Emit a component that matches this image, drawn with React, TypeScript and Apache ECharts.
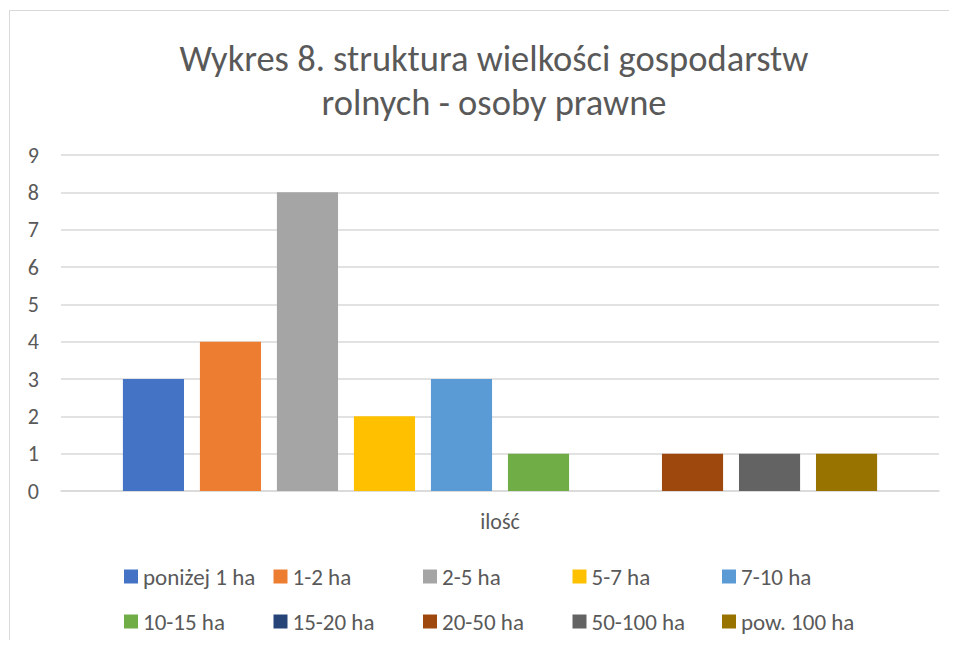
import React, { useEffect, useRef } from "react";
import * as echarts from "echarts";

const categories = ["ilość"];
const seriesNames = [
  "poniżej 1 ha",
  "1-2 ha",
  "2-5 ha",
  "5-7 ha",
  "7-10 ha",
  "10-15 ha",
  "15-20 ha",
  "20-50 ha",
  "50-100 ha",
  "pow. 100 ha",
];
const seriesValues = [3, 4, 8, 2, 3, 1, 0, 1, 1, 1];
const seriesColors = [
  "#4472C4",
  "#ED7D31",
  "#A5A5A5",
  "#FFC000",
  "#5B9BD5",
  "#70AD47",
  "#264478",
  "#9E480E",
  "#636363",
  "#997300",
];
const titleText = "Wykres 8. struktura wielkości gospodarstw\nrolnych - osoby prawne";

const FONT = "Carlito, Calibri, Lato, sans-serif";
const TXT = "#595959";

export default function App() {
  const ref = useRef<HTMLDivElement>(null);
  useEffect(() => {
    if (!ref.current) return;
    const chart = echarts.init(ref.current, undefined, { renderer: "svg" });
    const legendCols = [0, 1, 2, 3, 4].map((c) => ({
      show: true,
      orient: "vertical" as const,
      left: 119 + c * 149.5,
      top: 560,
      padding: 5,
      itemWidth: 14,
      itemHeight: 14,
      itemGap: 22,
      icon: "rect",
      data: [seriesNames[c], seriesNames[c + 5]],
      textStyle: { color: TXT, fontSize: 23, lineHeight: 23, fontFamily: FONT },
      selectedMode: false,
    }));
    chart.setOption({
      animation: false,
      textStyle: { fontFamily: FONT },
      graphic: [
        {
          type: "rect",
          shape: { x: 9.5, y: 10.5, width: 1000, height: 700 },
          style: { fill: "none", stroke: "#d9d9d9", lineWidth: 1 },
          silent: true,
        },
      ],
      title: {
        text: titleText,
        left: 489,
        top: 31,
        textAlign: "center",
        textStyle: {
          color: TXT,
          fontSize: 36.5,
          fontWeight: "normal",
          fontFamily: FONT,
          lineHeight: 44,
        },
      },
      legend: legendCols,
      grid: { left: 61, right: 18, top: 155, bottom: 157, containLabel: false },
      xAxis: {
        type: "category",
        data: categories,
        axisLine: { lineStyle: { color: "#d9d9d9", width: 1.5 } },
        axisTick: { show: false },
        axisLabel: { color: TXT, fontSize: 22, fontFamily: FONT, margin: 19 },
      },
      yAxis: {
        type: "value",
        min: 0,
        max: 9,
        interval: 1,
        axisLine: { show: false },
        axisTick: { show: false },
        axisLabel: { color: TXT, fontSize: 22, fontFamily: FONT, margin: 22 },
        splitLine: { lineStyle: { color: "#d9d9d9", width: 1.5 } },
      },
      series: seriesNames.map((name, i) => ({
        name,
        type: "bar",
        data: [seriesValues[i]],
        itemStyle: { color: seriesColors[i] },
        barGap: "26%",
        barCategoryGap: "14.1%",
      })),
    });
    return () => chart.dispose();
  }, []);
  return <div ref={ref} style={{ width: 957, height: 648, margin: -8 }} />;
}
